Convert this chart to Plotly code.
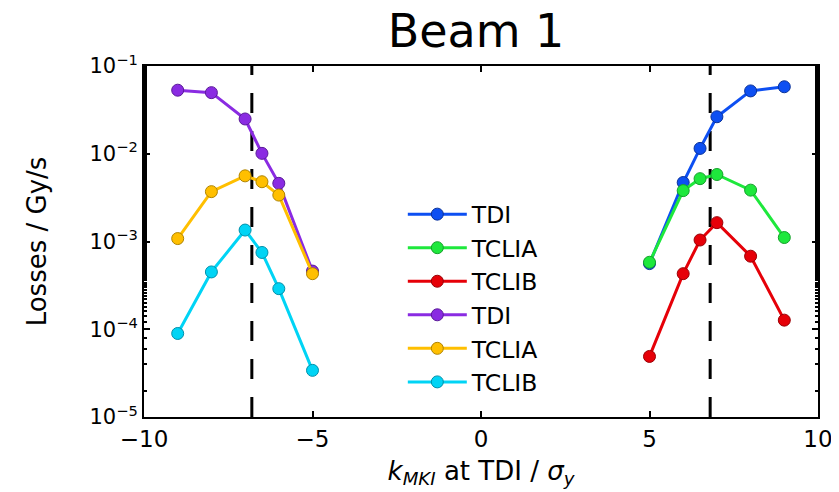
import plotly.graph_objects as go

x_left = [-9, -8, -7, -6.5, -6, -5]
x_right = [5, 6, 6.5, 7, 8, 9]

tdi_right = [5.6e-4, 4.7e-3, 0.0115, 0.0264, 0.052, 0.058]
tclia_right = [5.8e-4, 3.8e-3, 5.2e-3, 5.8e-3, 3.85e-3, 1.11e-3]
tclib_right = [4.9e-5, 4.3e-4, 1.04e-3, 1.64e-3, 6.8e-4, 1.27e-4]

tdi_left = [0.053, 0.0497, 0.0249, 0.0101, 4.6e-3, 4.6e-4]
tclia_left = [1.08e-3, 3.7e-3, 5.6e-3, 4.8e-3, 3.38e-3, 4.3e-4]
tclib_left = [8.95e-5, 4.5e-4, 1.35e-3, 7.5e-4, 2.9e-4, 3.4e-5]

names = ["TDI", "TCLIA", "TCLIB", "TDI", "TCLIA", "TCLIB"]
colors = ["#0d4ff2", "#1ee83c", "#e60008", "#8a2be2", "#ffbf00", "#00d4f5"]
edge = ["#0a3299", "#14a02a", "#9a0005", "#5a1a99", "#b08400", "#0090aa"]

dash_x = [-6.8, 6.8]
y_range = [1e-5, 1e-1]
x_ticks = [-10, -5, 0, 5, 10]
x_ticktext = ["\u221210", "\u22125", "0", "5", "10"]
y_ticks = [1e-5, 1e-4, 1e-3, 1e-2, 1e-1]
y_ticktext = ["10<sup>\u22125</sup>", "10<sup>\u22124</sup>", "10<sup>\u22123</sup>",
              "10<sup>\u22122</sup>", "10<sup>\u22121</sup>"]

series = [
    (x_right, tdi_right), (x_right, tclia_right), (x_right, tclib_right),
    (x_left, tdi_left), (x_left, tclia_left), (x_left, tclib_left),
]

fig = go.Figure()
for xv in dash_x:
    fig.add_trace(go.Scatter(x=[xv, xv], y=y_range, mode="lines",
                             line=dict(color="black", width=3, dash="20px,18px"),
                             showlegend=False, hoverinfo="skip"))

for i, ((xs, ys), n, c, e) in enumerate(zip(series, names, colors, edge)):
    fig.add_trace(go.Scatter(
        x=xs, y=ys, name=n, mode="lines+markers", legendgroup="g%d" % i,
        line=dict(color=c, width=3),
        marker=dict(size=12, color=c, line=dict(color=e, width=1)),
    ))

font_family = "DejaVu Sans"
W, H = 831, 484
L, T, PW, PH = 136, 58, 674, 351
fig.update_layout(
    width=W, height=H,
    paper_bgcolor="white", plot_bgcolor="white",
    margin=dict(l=L, r=W - L - PW, t=T, b=H - T - PH, autoexpand=False),
    title=dict(text="Beam 1", x=0.4926, xref="paper",
               xanchor="center", y=1 - 23 / H, yanchor="middle",
               font=dict(family=font_family, size=46, color="black")),
    font=dict(family=font_family, color="black"),
    legend=dict(x=0.384, y=0.64, xanchor="left", yanchor="top",
                bgcolor="rgba(0,0,0,0)", font=dict(size=23.5, color="black"),
                tracegroupgap=0, itemwidth=59),
    showlegend=True,
)
fig.update_xaxes(
    range=[-10, 10], tickvals=x_ticks, ticktext=x_ticktext,
    ticks="inside", ticklen=6, tickwidth=1.5, tickcolor="black",
    showline=True, linecolor="black", linewidth=2, mirror="ticks",
    showgrid=False, zeroline=False,
    tickfont=dict(size=23),
    title=dict(text="<i>k</i><sub><i>MKI</i></sub> at TDI / <i>\u03c3</i><sub><i>y</i></sub>",
               font=dict(size=26), standoff=11),
)
fig.update_yaxes(
    type="log", range=[-5, -1], tickvals=y_ticks, ticktext=y_ticktext,
    ticks="inside", ticklen=6, tickwidth=1.5, tickcolor="black",
    minor=dict(ticks="inside", ticklen=3, tickcolor="black", showgrid=False),
    showline=True, linecolor="black", linewidth=2, mirror="ticks",
    showgrid=False, zeroline=False,
    tickfont=dict(size=21),
    title=dict(text="Losses / Gy/s", font=dict(size=26), standoff=35),
)

fig.write_html("out.html")
